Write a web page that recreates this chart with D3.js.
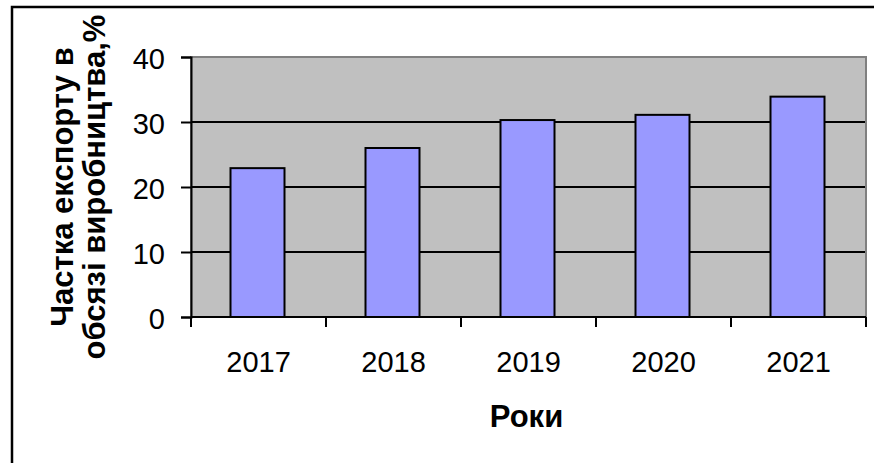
<!DOCTYPE html>
<meta charset='utf-8'>
<style>
body { margin: 0; background: #fff; }
text { font-family: 'Liberation Sans', Arial, sans-serif; fill: #000; }
.tick-label { font-size: 29px; }
.axis-title { font-size: 31px; font-weight: bold; }
</style>
<div id='chart'></div>
<script src='https://d3js.org/d3.v7.min.js'></script>
<script>

  // data
  var years = ['2017', '2018', '2019', '2020', '2021'];
  var shares = [22.9, 26.0, 30.3, 31.1, 33.9];
  var yTicks = [0, 10, 20, 30, 40];
  var yTitle = ['Частка експорту в', 'обсязі виробництва,%'];
  var xTitle = 'Роки';

  var W = 874, H = 463;
  var plot = {left: 191, top: 57, right: 866, bottom: 317};

  var svg = d3.select('#chart')
    .append('svg')
      .attr('width', W)
      .attr('height', H);

  // outer chart frame, runs off the right and bottom edges
  svg.append('rect')
    .attr('x', 12).attr('y', 7)
    .attr('width', W + 20).attr('height', H + 20)
    .attr('fill', '#fff')
    .attr('stroke', '#000')
    .attr('stroke-width', 2.5);

  var x = d3.scaleBand()
    .domain(years)
    .range([plot.left, plot.right])
    .padding(0);

  var y = d3.scaleLinear()
    .domain([0, 40])
    .range([plot.bottom, plot.top]);

  // plot area
  svg.append('rect')
    .attr('x', plot.left).attr('y', plot.top)
    .attr('width', plot.right - plot.left)
    .attr('height', plot.bottom - plot.top)
    .attr('fill', '#c0c0c0')
    .attr('stroke', '#808080')
    .attr('stroke-width', 2);

  // gridlines
  svg.append('g')
    .selectAll('line')
    .data(yTicks.filter(function(d) { return d > 0 && d < 40; }))
    .enter()
    .append('line')
      .attr('x1', plot.left).attr('x2', plot.right - 1)
      .attr('y1', function(d) { return y(d); })
      .attr('y2', function(d) { return y(d); })
      .attr('stroke', '#000')
      .attr('stroke-width', 2);

  // bars
  var bw = x.bandwidth() * 0.4;
  svg.append('g')
    .selectAll('rect')
    .data(years)
    .enter()
    .append('rect')
      .attr('x', function(d) { return x(d) + (x.bandwidth() - bw) / 2 - 1; })
      .attr('y', function(d, i) { return y(shares[i]); })
      .attr('width', bw)
      .attr('height', function(d, i) { return y(0) - y(shares[i]); })
      .attr('fill', '#9999ff')
      .attr('stroke', '#000')
      .attr('stroke-width', 2);

  // y axis
  var yAxis = svg.append('g')
    .attr('transform', 'translate(' + plot.left + ',0)')
    .call(d3.axisLeft(y).tickValues(yTicks).tickSize(10).tickPadding(16));
  yAxis.select('.domain').attr('stroke', '#000').attr('stroke-width', 2);
  yAxis.selectAll('.tick line').attr('stroke', '#000').attr('stroke-width', 2);
  yAxis.selectAll('.tick text')
    .attr('class', 'tick-label')
    .attr('font-family', null).attr('font-size', null)
    .attr('dy', '0.38em');

  // x axis: ticks at the category boundaries, labels in the middle
  var xAxis = svg.append('g')
    .attr('transform', 'translate(0,' + plot.bottom + ')')
    .call(d3.axisBottom(x).tickSize(0));
  xAxis.select('.domain').attr('stroke', '#000').attr('stroke-width', 2)
    .attr('d', 'M' + plot.left + ',0H' + plot.right);
  xAxis.selectAll('.tick text')
    .attr('class', 'tick-label')
    .attr('font-family', null).attr('font-size', null)
    .attr('dy', null)
    .attr('y', 55);
  xAxis.append('g')
    .selectAll('line')
    .data(years.map(function(d) { return x(d); }).concat([plot.right]))
    .enter()
    .append('line')
      .attr('x1', function(d) { return d; })
      .attr('x2', function(d) { return d; })
      .attr('y1', 0).attr('y2', 10)
      .attr('stroke', '#000')
      .attr('stroke-width', 2);

  // axis titles
  svg.append('text')
    .attr('class', 'axis-title')
    .attr('x', (plot.left + plot.right) / 2 - 2)
    .attr('y', 427)
    .attr('text-anchor', 'middle')
    .text(xTitle);

  svg.selectAll('.ytitle')
    .data(yTitle)
    .enter()
    .append('text')
      .attr('class', 'axis-title ytitle')
      .attr('text-anchor', 'middle')
      .attr('transform', function(d, i) {
        return 'translate(' + (73 + i * 32) + ',' + ((plot.top + plot.bottom) / 2) + ') rotate(-90)';
      })
      .text(function(d) { return d; });

</script>
